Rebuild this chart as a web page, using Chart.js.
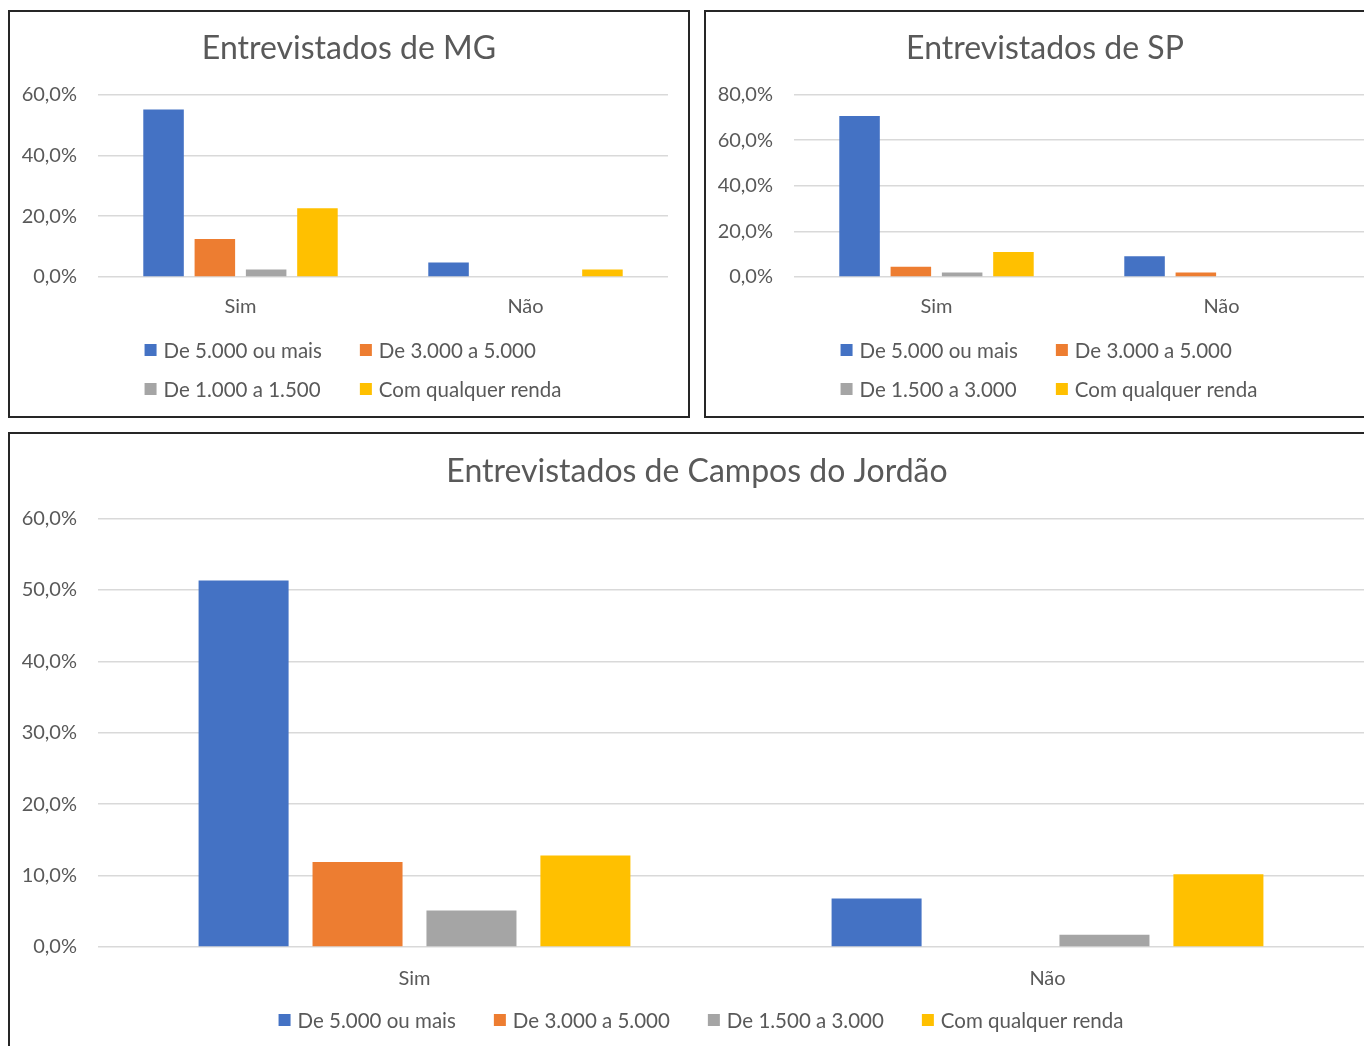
<!DOCTYPE html>
<html lang="pt-BR">
<head>
<meta charset="utf-8">
<title>Entrevistados por faixa de renda</title>
<script src="https://cdn.jsdelivr.net/npm/chart.js@4.4.1/dist/chart.umd.min.js"></script>
<style>
  html, body { margin: 0; padding: 0; background: #fff; }
  body { width: 1364px; height: 1046px; overflow: hidden; position: relative; }
  .panel { position: absolute; box-sizing: border-box; border: 2px solid #262626; background: #fff; }
  .panel canvas { position: absolute; left: 0; top: 0; }
</style>
</head>
<body>
<div class="panel" style="left:8px; top:10px; width:682px; height:408px;"><canvas id="mg" width="678" height="404"></canvas></div>
<div class="panel" style="left:704px; top:10px; width:682px; height:408px;"><canvas id="sp" width="678" height="404"></canvas></div>
<div class="panel" style="left:8px; top:432px; width:1378px; height:660px;"><canvas id="cj" width="1374" height="656"></canvas></div>
<script>
// Answer categories
const categories = ['Sim', 'Não'];

// Income brackets shown in each legend
const incomeMG = ['De 5.000 ou mais', 'De 3.000 a 5.000', 'De 1.000 a 1.500', 'Com qualquer renda'];
const incomeSP = ['De 5.000 ou mais', 'De 3.000 a 5.000', 'De 1.500 a 3.000', 'Com qualquer renda'];
const incomeCJ = ['De 5.000 ou mais', 'De 3.000 a 5.000', 'De 1.500 a 3.000', 'Com qualquer renda'];

// Entrevistados de MG (%), [Sim, Não]
const mg5000 = [55.0, 4.8];
const mg3000 = [12.5, 0];
const mg1000 = [2.5, 0];
const mgAny  = [22.6, 2.5];

// Entrevistados de SP (%), [Sim, Não]
const sp5000 = [70.5, 9.1];
const sp3000 = [4.5, 2.0];
const sp1500 = [2.0, 0];
const spAny  = [11.0, 0];

// Entrevistados de Campos do Jordão (%), [Sim, Não]
const cj5000 = [51.3, 6.8];
const cj3000 = [11.9, 0];
const cj1500 = [5.1, 1.7];
const cjAny  = [12.8, 10.2];

// Value-axis ticks
const ticksMG = [0, 20, 40, 60];
const ticksSP = [0, 20, 40, 60, 80];
const ticksCJ = [0, 10, 20, 30, 40, 50, 60];

const FONT = 'Lato, "Open Sans", sans-serif';
const TEXT = '#595959';
const GRID = '#d9d9d9';
const COLORS = ['#4472C4', '#ED7D31', '#A5A5A5', '#FFC000'];

// Legend laid out as a grid of columns, centred in the canvas
const gridLegend = {
  id: 'gridLegend',
  afterDraw(chart, args, opts) {
    const ctx = chart.ctx;
    const items = chart.data.datasets.map(d => ({ text: d.label, color: d.backgroundColor }));
    const cols = opts.columns;
    ctx.save();
    ctx.font = opts.fontSize + 'px ' + FONT;
    const itemW = items.map(it => opts.box + opts.boxGap + ctx.measureText(it.text).width);
    const colW = [];
    for (let c = 0; c < cols; c++) {
      colW[c] = 0;
      for (let i = c; i < items.length; i += cols) colW[c] = Math.max(colW[c], itemW[i]);
    }
    const total = colW.reduce((a, b) => a + b, 0) + opts.colGap * (cols - 1);
    const x0 = (opts.centerWidth - total) / 2;
    items.forEach((it, i) => {
      const c = i % cols, r = Math.floor(i / cols);
      let x = x0;
      for (let k = 0; k < c; k++) x += colW[k] + opts.colGap;
      const y = chart.chartArea.bottom + opts.offset + r * opts.rowGap;
      ctx.fillStyle = it.color;
      ctx.fillRect(x, y - opts.box / 2, opts.box, opts.box);
      ctx.fillStyle = TEXT;
      ctx.textAlign = 'left';
      ctx.textBaseline = 'middle';
      ctx.fillText(it.text, x + opts.box + opts.boxGap, y + 1);
    });
    ctx.restore();
  }
};

const fmt = v => v.toFixed(1).replace('.', ',') + '%';

function makeChart(id, title, labels, series, ticks, cfg) {
  const datasets = labels.map((label, i) => ({
    label,
    data: series[i],
    yAxisID: 'y',
    backgroundColor: COLORS[i],
    borderWidth: 0,
    barPercentage: 0.79,
    categoryPercentage: 0.72
  }));
  return new Chart(document.getElementById(id), {
    type: 'bar',
    data: { labels: categories, datasets },
    plugins: [gridLegend],
    options: {
      responsive: false,
      animation: false,
      layout: { padding: { left: 0, right: 0, top: 0, bottom: cfg.bottomPad } },
      plugins: {
        legend: { display: false },
        tooltip: { enabled: false },
        title: {
          display: true,
          text: title,
          color: TEXT,
          font: { family: FONT, size: 32, weight: 'normal' },
          padding: { top: cfg.titleTop, bottom: cfg.titleBottom }
        },
        gridLegend: {
          columns: cfg.columns,
          fontSize: 20.5,
          box: 12,
          boxGap: 7,
          colGap: 38,
          offset: 73,
          rowGap: 39,
          centerWidth: cfg.centerWidth
        }
      },
      scales: {
        x: {
          grid: { display: false },
          border: { display: false },
          ticks: { color: TEXT, font: { family: FONT, size: 20 }, padding: cfg.xPad },
          afterFit: s => { s.height = 50; }
        },
        y: {
          min: ticks[0],
          max: ticks[ticks.length - 1],
          afterBuildTicks: s => { s.ticks = ticks.map(v => ({ value: v })); },
          grid: { color: GRID, lineWidth: 1.5, drawTicks: false },
          border: { display: false },
          ticks: { color: TEXT, font: { family: FONT, size: 20 }, padding: 21, callback: v => fmt(v) },
          afterFit: s => { s.width = 88; }
        },
        // empty margin on the right of the plot
        yR: {
          position: 'right',
          grid: { display: false },
          border: { display: false },
          ticks: { display: false },
          afterFit: s => { s.width = 20; }
        }
      }
    }
  });
}

makeChart('mg', 'Entrevistados de MG', incomeMG, [mg5000, mg3000, mg1000, mgAny], ticksMG,
  { bottomPad: 89, titleTop: 17, titleBottom: 27, xPad: 10, columns: 2, centerWidth: 686 });
makeChart('sp', 'Entrevistados de SP', incomeSP, [sp5000, sp3000, sp1500, spAny], ticksSP,
  { bottomPad: 89, titleTop: 17, titleBottom: 27, xPad: 10, columns: 2, centerWidth: 686 });
makeChart('cj', 'Entrevistados de Campos do Jordão', incomeCJ, [cj5000, cj3000, cj1500, cjAny], ticksCJ,
  { bottomPad: 93, titleTop: 18, titleBottom: 28, xPad: 12, columns: 4, centerWidth: 1382 });
</script>
</body>
</html>
